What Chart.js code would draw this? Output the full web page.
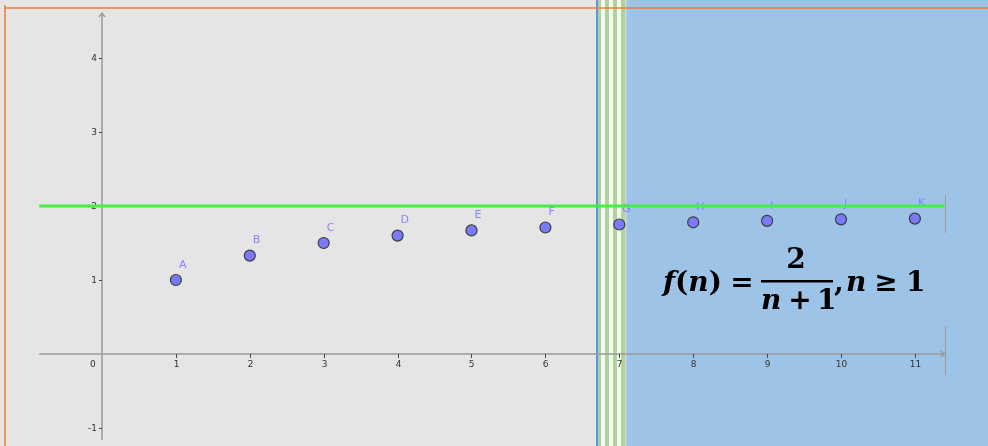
<!DOCTYPE html>
<html lang="pt-BR">
<head>
    <meta charset="UTF-8">
    <title>f(n) = 2/(n+1)</title>
    <script src="https://cdn.jsdelivr.net/npm/chart.js"></script>
    <style>
        body {
            margin: 0;
            padding: 0;
            background: #e5e5e5;
            overflow: hidden;
        }
        #wrap {
            width: 988px;
            height: 446px;
        }
    </style>
</head>
<body>
    <div id="wrap">
        <canvas id="grafico" width="988" height="446"></canvas>
    </div>

    <script>
        // dados
        const nValues = [1, 2, 3, 4, 5, 6, 7, 8, 9, 10, 11];
        const fValues = [1.00, 1.33, 1.50, 1.60, 1.67, 1.71, 1.75, 1.78, 1.80, 1.82, 1.83];
        const pointNames = ['A', 'B', 'C', 'D', 'E', 'F', 'G', 'H', 'I', 'J', 'K'];
        const limitValue = 2;
        const limitRange = [-0.85, 11.4];
        const xTicks = [1, 2, 3, 4, 5, 6, 7, 8, 9, 10, 11];
        const yTicks = [-1, 1, 2, 3, 4];
        const xAxisRange = [-0.85, 11.4];
        const yAxisRange = [-1.16, 4.61];

        // fundo: painel cinza, faixa listrada e painel azul
        const fundoPlugin = {
            id: 'fundo',
            beforeDraw(chart) {
                const ctx = chart.ctx;
                const h = chart.height;
                ctx.save();
                ctx.fillStyle = '#e5e5e5';
                ctx.fillRect(0, 0, 597, h);
                ctx.fillStyle = '#9dc3e6';
                ctx.fillRect(626, 0, chart.width - 626, h);
                ctx.fillStyle = '#5b9bd5';
                ctx.fillRect(596, 0, 2.5, h);
                // listras verde / branco
                const listras = [[598.5, 601, '#b0d39a'], [601, 605, '#f7f7f3'], [605, 609, '#b0d39a'],
                                 [609, 613, '#f7f7f3'], [613, 617, '#b0d39a'], [617, 621, '#f7f7f3'],
                                 [621, 625, '#b0d39a'], [625, 626.5, '#cfd8dc']];
                listras.forEach(([a, b, c]) => {
                    ctx.fillStyle = c;
                    ctx.fillRect(a, 0, b - a, h);
                });

                // eixos
                const xs = chart.scales.x, ys = chart.scales.y;
                const x0 = xs.getPixelForValue(0), y0 = ys.getPixelForValue(0);
                const xa = xs.getPixelForValue(xAxisRange[0]), xb = xs.getPixelForValue(xAxisRange[1]);
                const ya = ys.getPixelForValue(yAxisRange[0]), yb = ys.getPixelForValue(yAxisRange[1]);
                ctx.strokeStyle = '#9a9a9a';
                ctx.lineWidth = 1.5;
                ctx.beginPath();
                ctx.moveTo(xa, y0); ctx.lineTo(xb, y0);
                ctx.moveTo(x0, ya); ctx.lineTo(x0, yb);
                // setas
                ctx.moveTo(xb - 4, y0 - 3); ctx.lineTo(xb, y0); ctx.lineTo(xb - 4, y0 + 3);
                ctx.moveTo(x0 - 3, yb + 4); ctx.lineTo(x0, yb); ctx.lineTo(x0 + 3, yb + 4);
                ctx.stroke();

                // marcas e rótulos
                ctx.strokeStyle = '#444';
                ctx.lineWidth = 1;
                ctx.fillStyle = '#333';
                ctx.font = '9px "DejaVu Sans", sans-serif';
                ctx.textBaseline = 'middle';
                ctx.textAlign = 'center';
                xTicks.forEach(v => {
                    const px = Math.round(xs.getPixelForValue(v)) + 0.5;
                    ctx.beginPath();
                    ctx.moveTo(px, y0); ctx.lineTo(px, y0 + 4);
                    ctx.stroke();
                    ctx.fillText(String(v), px, y0 + 11);
                });
                ctx.fillText('0', x0 - 9, y0 + 11);
                ctx.textAlign = 'right';
                yTicks.forEach(v => {
                    const py = Math.round(ys.getPixelForValue(v)) + 0.5;
                    ctx.beginPath();
                    ctx.moveTo(x0 - 3, py); ctx.lineTo(x0, py);
                    ctx.stroke();
                    ctx.fillText(String(v), x0 - 5, py);
                });
                ctx.restore();
            },
            beforeDatasetsDraw(chart) {
                // nomes dos pontos (ficam por baixo da reta y = 2)
                const ctx = chart.ctx;
                const meta = chart.getDatasetMeta(0);
                ctx.save();
                ctx.fillStyle = '#8484ff';
                ctx.font = '11px "DejaVu Sans", sans-serif';
                ctx.textAlign = 'left';
                ctx.textBaseline = 'middle';
                meta.data.forEach((pt, i) => {
                    ctx.fillText(pointNames[i], pt.x + 3, pt.y - 15);
                });
                ctx.restore();
            },
            afterDraw(chart) {
                const ctx = chart.ctx;
                ctx.save();
                // bordas laranja
                ctx.strokeStyle = '#ed7d31';
                ctx.lineWidth = 1.5;
                ctx.beginPath();
                ctx.moveTo(5, 8); ctx.lineTo(chart.width, 8);
                ctx.moveTo(5, 5); ctx.lineTo(5, chart.height);
                ctx.stroke();
                // borda direita da janela gráfica
                ctx.strokeStyle = '#9a9a9a';
                ctx.lineWidth = 1;
                ctx.beginPath();
                ctx.moveTo(945.5, 195); ctx.lineTo(945.5, 233);
                ctx.moveTo(945.5, 326); ctx.lineTo(945.5, 375);
                ctx.stroke();

                // fórmula
                const it = 'italic bold 28px "DejaVu Serif", "Liberation Serif", serif';
                const rm = 'bold 28px "DejaVu Serif", "Liberation Serif", serif';
                ctx.fillStyle = '#000';
                ctx.textBaseline = 'alphabetic';
                ctx.textAlign = 'left';
                const run = (parts, x, y) => {
                    parts.forEach(([txt, f]) => {
                        ctx.font = f;
                        ctx.fillText(txt, x, y);
                        x += ctx.measureText(txt).width;
                    });
                    return x;
                };
                run([['f', it], ['(', rm], ['n', it], [')', rm]], 663, 291);
                ctx.font = rm;
                ctx.textAlign = 'center';
                ctx.fillText('=', 742, 291);
                ctx.fillText('2', 796, 268);
                ctx.fillText('+', 800, 309);
                ctx.fillText('≥', 886, 291);
                ctx.fillRect(761, 280, 72, 2.5);
                ctx.textAlign = 'left';
                ctx.fillText('1', 817, 309);
                ctx.fillText(',', 834, 291);
                ctx.fillText('1', 906, 291);
                ctx.font = it;
                ctx.fillText('n', 761, 309);
                ctx.fillText('n', 846, 291);
                ctx.restore();
            }
        };

        new Chart(document.getElementById('grafico'), {
            type: 'scatter',
            data: {
                datasets: [
                    {
                        label: 'f(n)',
                        data: nValues.map((n, i) => ({ x: n, y: fValues[i] })),
                        backgroundColor: '#7a7afa',
                        borderColor: '#3c3c3c',
                        borderWidth: 1.2,
                        pointRadius: 5.5,
                        showLine: false,
                        order: 1
                    },
                    {
                        type: 'line',
                        label: 'y = 2',
                        data: limitRange.map(x => ({ x: x, y: limitValue })),
                        borderColor: '#44f044',
                        borderWidth: 3,
                        pointRadius: 0,
                        fill: false,
                        order: 0
                    }
                ]
            },
            options: {
                responsive: false,
                animation: false,
                devicePixelRatio: 1,
                events: [],
                layout: { padding: 0, autoPadding: false },
                plugins: {
                    legend: { display: false },
                    tooltip: { enabled: false }
                },
                scales: {
                    x: { type: 'linear', display: false, min: -1.380, max: 11.989 },
                    y: { type: 'linear', display: false, min: -1.243, max: 4.784 }
                }
            },
            plugins: [fundoPlugin]
        });
    </script>
</body>
</html>
